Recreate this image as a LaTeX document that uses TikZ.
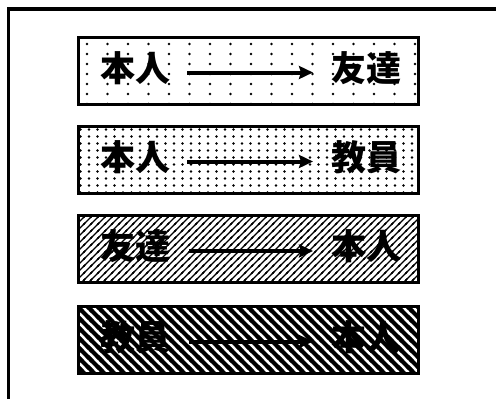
\documentclass[tikz,border=0pt]{standalone}
\usepackage{fontspec}
\newfontfamily\cjk{Noto Sans CJK JP}
\usetikzlibrary{patterns,arrows.meta}
\pgfdeclarepatternformonly{sparsedots}{\pgfpoint{-1pt}{-1pt}}{\pgfpoint{21.5pt}{11pt}}{\pgfpoint{20.5pt}{10pt}}{%
  \pgfpathcircle{\pgfpoint{5pt}{5pt}}{1.45pt}\pgfusepath{fill}}
\pgfdeclarepatternformonly{densedots}{\pgfpoint{-1pt}{-1pt}}{\pgfpoint{9.5pt}{8pt}}{\pgfpoint{8.5pt}{7pt}}{%
  \pgfpathcircle{\pgfpoint{4pt}{3.5pt}}{1.3pt}\pgfusepath{fill}}
\pgfdeclarepatternformonly{finelines}{\pgfpoint{-1pt}{-1pt}}{\pgfpoint{8pt}{8pt}}{\pgfpoint{7pt}{7pt}}{%
  \pgfsetlinewidth{1.4pt}%
  \pgfpathmoveto{\pgfpoint{-1pt}{-1pt}}\pgfpathlineto{\pgfpoint{8pt}{8pt}}%
  \pgfpathmoveto{\pgfpoint{-1pt}{6pt}}\pgfpathlineto{\pgfpoint{1pt}{8pt}}%
  \pgfpathmoveto{\pgfpoint{6pt}{-1pt}}\pgfpathlineto{\pgfpoint{8pt}{1pt}}%
  \pgfusepath{stroke}}
\pgfdeclarepatternformonly{thicklines}{\pgfpoint{-1pt}{-1pt}}{\pgfpoint{11pt}{11pt}}{\pgfpoint{10pt}{10pt}}{%
  \pgfsetlinewidth{4.2pt}%
  \pgfpathmoveto{\pgfpoint{-2pt}{12pt}}\pgfpathlineto{\pgfpoint{12pt}{-2pt}}%
  \pgfpathmoveto{\pgfpoint{-3pt}{3pt}}\pgfpathlineto{\pgfpoint{3pt}{-3pt}}%
  \pgfpathmoveto{\pgfpoint{7pt}{13pt}}\pgfpathlineto{\pgfpoint{13pt}{7pt}}%
  \pgfusepath{stroke}}
\begin{document}
\begin{tikzpicture}[x=1pt,y=-1pt,
  panel/.style={draw=black,line width=3pt,minimum width=340pt,minimum height=67pt,inner sep=0pt},
  word/.style={font=\cjk\bfseries\fontsize{35}{35}\selectfont,inner sep=0pt,text=black},
  conn/.style={draw=black,line width=4pt,-{Stealth[length=14pt,width=13pt,inset=2pt]}}]
\useasboundingbox (0,0) rectangle (496,399);
\begin{scope}
\clip (0,0) rectangle (496,399);
\draw[line width=3.5pt] (8.5,9) rectangle (510,410);
\end{scope}
% panels
\node[panel,pattern=sparsedots] (p1) at (248,70.5) {};
\node[panel,pattern=densedots] (p2) at (248,159.5) {};
\node[panel,pattern=finelines] (p3) at (248,249) {};
\node[panel,pattern=thicklines] (p4) at (248,339.5) {};
% words
\node[word] (a1) at (135,68) {本人};
\node[word] (b1) at (366,68) {友達};
\node[word] (a2) at (135,157) {本人};
\node[word] (b2) at (366,157) {教員};
\node[word] (a3) at (135,246.5) {友達};
\node[word] (b3) at (366,246.5) {本人};
\node[word] (a4) at (135,337) {教員};
\node[word] (b4) at (366,337) {本人};
% connectors
\coordinate (s1) at (187,72.5); \coordinate (e1) at (313,72.5);
\coordinate (s2) at (187,161.5); \coordinate (e2) at (313,161.5);
\coordinate (s3) at (189,251); \coordinate (e3) at (313,251);
\coordinate (s4) at (189,341.5); \coordinate (e4) at (313,341.5);
\draw[conn] (s1) -- (e1);
\draw[conn] (s2) -- (e2);
\draw[conn] (s3) -- (e3);
\draw[conn] (s4) -- (e4);
\end{tikzpicture}
\end{document}
